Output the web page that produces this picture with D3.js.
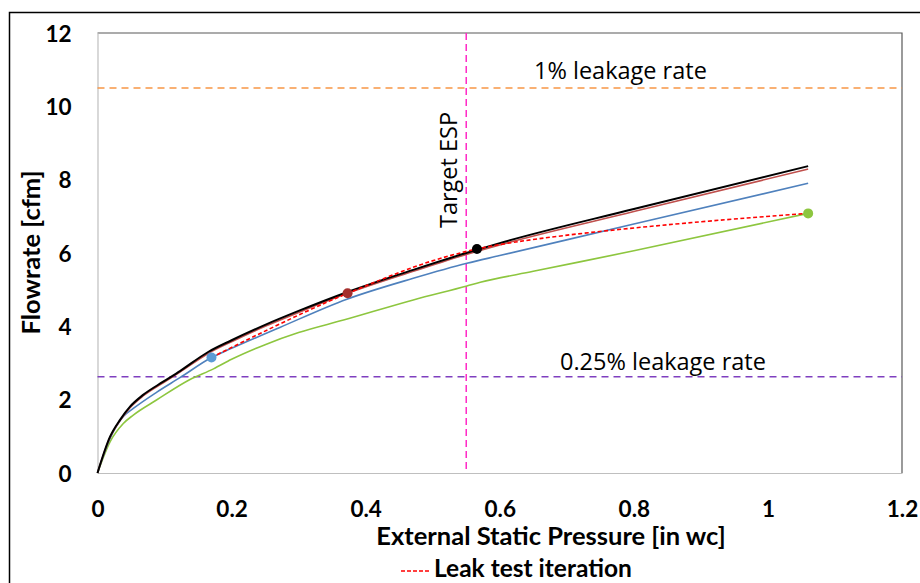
<!DOCTYPE html>
<html><head><meta charset="utf-8">
<script src="https://cdn.jsdelivr.net/npm/d3@7"></script>
<style>
html,body{margin:0;padding:0;background:#fff;}
svg{display:block;}
</style></head>
<body>
<svg id="chart" width="920" height="583"></svg>
<script>
// ---- data ----
const xTicks = [0, 0.2, 0.4, 0.6, 0.8, 1, 1.2];
const yTicks = [0, 2, 4, 6, 8, 10, 12];
const blackX = [0, 0.0187, 0.0336, 0.0485, 0.068, 0.098, 0.123, 0.165, 0.2, 0.25, 0.3, 0.372, 0.471, 0.55, 0.6, 0.8, 1.06];
const blackY = [0, 0.99, 1.45, 1.81, 2.13, 2.49, 2.78, 3.3, 3.62, 4.04, 4.42, 4.93, 5.54, 6.0, 6.27, 7.2, 8.37];
const brownX = [0, 0.0187, 0.0336, 0.0485, 0.068, 0.098, 0.123, 0.165, 0.2, 0.25, 0.3, 0.373, 0.471, 0.55, 0.6, 0.8, 1.06];
const brownY = [0, 0.97, 1.43, 1.78, 2.1, 2.46, 2.75, 3.26, 3.58, 4.0, 4.38, 4.9, 5.5, 5.96, 6.22, 7.13, 8.29];
const blueX = [0, 0.0187, 0.0385, 0.0534, 0.088, 0.123, 0.17, 0.2, 0.272, 0.372, 0.471, 0.551, 0.6, 0.8, 1.06];
const blueY = [0, 0.94, 1.54, 1.76, 2.2, 2.6, 3.15, 3.4, 3.97, 4.74, 5.31, 5.72, 5.93, 6.79, 7.9];
const greenX = [0, 0.0187, 0.0385, 0.0534, 0.088, 0.138, 0.173, 0.2, 0.25, 0.3, 0.367, 0.471, 0.551, 0.571, 0.65, 0.8, 1.06];
const greenY = [0, 0.85, 1.35, 1.58, 1.99, 2.55, 2.84, 3.1, 3.5, 3.83, 4.17, 4.72, 5.1, 5.2, 5.5, 6.06, 7.08];
const leakX = [0.17, 0.373, 0.566, 1.06];
const leakY = [3.15, 4.9, 6.11, 7.08];
const leakColors = ["#5b9bd5", "#a5302e", "#000000", "#8dc63f"];
const targetESP = 0.55;
const rate1 = 10.5;
const rate025 = 2.625;
const labels = {x: "External Static Pressure [in wc]", y: "Flowrate [cfm]", legend: "Leak test iteration",
  target: "Target ESP", r1: "1% leakage rate", r025: "0.25% leakage rate"};

// ---- layout ----
const svg = d3.select("#chart");
const L = 97.5, R = 902, T = 33, B = 473;
const x = d3.scaleLinear().domain([0, 1.2]).range([L, R]);
const y = d3.scaleLinear().domain([0, 12]).range([B, T]);
const boldFont = "Lato, 'Open Sans', sans-serif";
const regFont = "'Open Sans', sans-serif";

// outer frame
svg.append("rect").attr("x", 9.5).attr("y", 12.5).attr("width", 930).attr("height", 600)
  .attr("fill", "none").attr("stroke", "#000").attr("stroke-width", 1.5);

// plot border (top/right)
svg.append("path").attr("d", `M${L},${T}H${R}V${B}`).attr("fill", "none").attr("stroke", "#595959").attr("stroke-width", 1.2);

// axes
const xAxis = svg.append("g").attr("transform", `translate(0,${B})`)
  .call(d3.axisBottom(x).tickValues(xTicks).tickSize(0).tickPadding(0).tickFormat(d3.format("")));
xAxis.select(".domain").attr("stroke", "#bfbfbf").attr("stroke-width", 1.2);
xAxis.selectAll("text").attr("dy", null).attr("y", 44).attr("font-family", boldFont)
  .attr("font-weight", "bold").attr("font-size", 22.5).attr("fill", "#000");

const yAxis = svg.append("g").attr("transform", `translate(${L},0)`)
  .call(d3.axisLeft(y).tickValues(yTicks).tickSize(0).tickPadding(0));
yAxis.select(".domain").attr("stroke", "#bfbfbf").attr("stroke-width", 1.2);
yAxis.selectAll("text").attr("x", -26).attr("dy", "0.36em").attr("font-family", boldFont)
  .attr("font-weight", "bold").attr("font-size", 22.5).attr("fill", "#000");

// reference lines
svg.append("line").attr("x1", L).attr("x2", R).attr("y1", y(rate1)).attr("y2", y(rate1))
  .attr("stroke", "#f79646").attr("stroke-width", 1.5).attr("stroke-dasharray", "7,5");
svg.append("line").attr("x1", L).attr("x2", R).attr("y1", y(rate025)).attr("y2", y(rate025))
  .attr("stroke", "#7f3fbf").attr("stroke-width", 1.5).attr("stroke-dasharray", "7,5");
svg.append("line").attr("x1", x(targetESP)).attr("x2", x(targetESP)).attr("y1", T).attr("y2", B)
  .attr("stroke", "#ff29c6").attr("stroke-width", 1.5).attr("stroke-dasharray", "7,4");

// series
const line = d3.line().x(d => x(d[0])).y(d => y(d[1])).curve(d3.curveMonotoneX);
const series = [
  {xs: greenX, ys: greenY, c: "#8dc63f", w: 1.6},
  {xs: blueX, ys: blueY, c: "#4f81bd", w: 1.6},
  {xs: brownX, ys: brownY, c: "#c0504d", w: 1.6},
  {xs: blackX, ys: blackY, c: "#000000", w: 2}
];
series.forEach(s => {
  svg.append("path").datum(s.xs.map((v, i) => [v, s.ys[i]]))
    .attr("d", line).attr("fill", "none").attr("stroke", s.c).attr("stroke-width", s.w);
});

// leak test iteration
const leakData = leakX.map((v, i) => [v, leakY[i]]);
svg.append("path").datum(leakData)
  .attr("d", d3.line().x(d => x(d[0])).y(d => y(d[1])).curve(d3.curveCatmullRom.alpha(0.5)))
  .attr("fill", "none").attr("stroke", "#ff0000").attr("stroke-width", 1.6).attr("stroke-dasharray", "4,2.5");
svg.selectAll("circle.leak").data(leakData).join("circle").attr("class", "leak")
  .attr("cx", d => x(d[0])).attr("cy", d => y(d[1])).attr("r", 5)
  .attr("fill", (d, i) => leakColors[i]);

// annotations
svg.append("text").attr("x", 534).attr("y", 79).text(labels.r1)
  .attr("font-family", regFont).attr("font-size", 23.5).attr("fill", "#000");
svg.append("text").attr("x", 560).attr("y", 370).text(labels.r025)
  .attr("font-family", regFont).attr("font-size", 23.5).attr("fill", "#000");
svg.append("text").attr("transform", "translate(457,228) rotate(-90)").text(labels.target)
  .attr("font-family", regFont).attr("font-size", 23.5).attr("fill", "#000");

// axis titles
svg.append("text").attr("x", 551).attr("y", 545).attr("text-anchor", "middle").text(labels.x)
  .attr("font-family", boldFont).attr("font-weight", "bold").attr("font-size", 25.5).attr("fill", "#000");
svg.append("text").attr("transform", "translate(40,252.5) rotate(-90)").attr("text-anchor", "middle").text(labels.y)
  .attr("font-family", boldFont).attr("font-weight", "bold").attr("font-size", 25.5).attr("fill", "#000");

// legend
svg.append("line").attr("x1", 401).attr("x2", 430).attr("y1", 571).attr("y2", 571)
  .attr("stroke", "#ff0000").attr("stroke-width", 1.6).attr("stroke-dasharray", "4,2");
svg.append("text").attr("x", 434).attr("y", 577).text(labels.legend)
  .attr("font-family", boldFont).attr("font-weight", "bold").attr("font-size", 24.5).attr("fill", "#000");
</script>
</body></html>
